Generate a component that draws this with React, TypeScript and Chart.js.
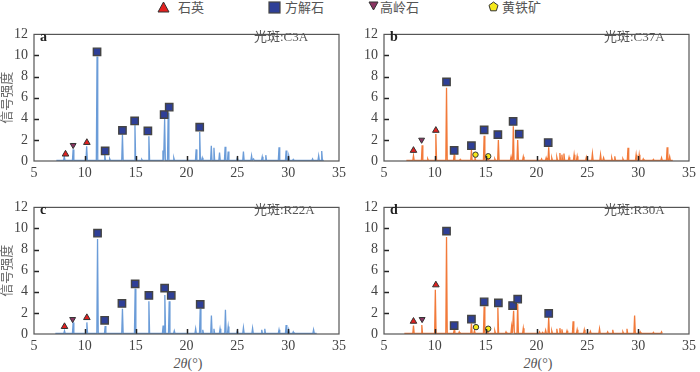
import React, { useEffect, useRef } from "react";
import { Chart, registerables } from "chart.js";
Chart.register(...registerables);

// ---------- DATA ----------
const xTicks = [5, 10, 15, 20, 25, 30, 35];
const yTicks = [0, 2, 4, 6, 8, 10, 12];

// Panel a: C3A
const peakXA = [7.98, 8.85, 10.18, 11.2, 11.96, 12.45, 13.7, 14.93, 15.6, 16.3, 17.68, 17.85, 18.2, 18.75, 20.95, 21.3, 21.55, 22.44, 22.7, 23.25, 23.8, 24.1, 25.0, 25.6, 26.4, 26.6, 27.45, 27.8, 29.1, 29.8, 30.05, 30.5, 32.4, 33.0, 33.3];
const peakYA = [0.4, 1.1, 1.4, 9.9, 0.6, 0.2, 2.5, 3.4, 0.15, 2.35, 1.0, 4.0, 4.6, 0.3, 1.1, 2.75, 0.3, 1.45, 1.25, 0.8, 1.35, 0.9, 0.3, 0.9, 0.5, 0.2, 0.4, 0.55, 1.3, 1.0, 0.5, 0.15, 0.2, 0.5, 0.95];
const rangeA = [7.2, 33.5];
const quartzA = [[8.1, 0.65], [10.2, 1.75]];
const kaolA = [[8.85, 1.5]];
const calciteA = [[11.2, 10.35], [12.0, 0.95], [13.7, 2.9], [14.9, 3.8], [16.2, 2.85], [17.8, 4.4], [18.3, 5.1], [21.3, 3.2]];
const pyriteA: number[][] = [];

// Panel b: C37A
const peakXB = [7.9, 8.75, 9.3, 10.1, 11.15, 11.9, 12.5, 13.6, 13.95, 14.85, 15.25, 15.9, 16.25, 17.5, 17.72, 18.15, 18.7, 20.5, 20.95, 21.2, 21.5, 22.0, 22.3, 22.5, 22.7, 23.2, 23.7, 24.0, 24.9, 25.5, 26.3, 26.6, 27.4, 27.7, 28.5, 29.0, 29.8, 30.1, 30.5, 31.5, 32.3, 32.85, 33.1];
const peakYB = [0.5, 1.5, 0.2, 2.55, 6.95, 0.55, 0.15, 1.05, 0.3, 2.4, 0.3, 0.2, 2.0, 0.4, 3.3, 2.0, 0.4, 0.2, 0.3, 1.3, 0.3, 0.35, 0.75, 0.6, 0.7, 0.35, 0.6, 0.45, 0.35, 0.7, 0.6, 0.3, 0.3, 0.45, 0.2, 1.25, 0.6, 0.6, 0.2, 0.15, 0.3, 1.3, 0.4];
const rangeB = [7.2, 33.4];
const quartzB = [[7.9, 1.0], [10.1, 2.9]];
const kaolB = [[8.7, 2.0]];
const calciteB = [[11.15, 7.5], [11.9, 1.0], [13.6, 1.45], [14.85, 2.95], [16.2, 2.5], [17.7, 3.75], [18.3, 2.55], [21.15, 1.75]];
const pyriteB = [[14.0, 0.6], [15.25, 0.45]];

// Panel c: R22A
const peakXC = [8.0, 8.85, 10.2, 11.25, 12.0, 13.7, 14.95, 16.3, 17.7, 17.87, 18.3, 18.8, 20.9, 21.35, 21.6, 22.45, 22.7, 23.3, 23.83, 24.1, 25.0, 25.6, 26.5, 27.4, 27.7, 29.1, 29.8, 30.05, 30.5, 32.5];
const peakYC = [0.3, 1.1, 1.1, 9.0, 0.75, 2.4, 4.3, 3.1, 0.8, 3.7, 3.1, 0.3, 0.5, 2.4, 0.4, 1.75, 0.5, 0.5, 2.3, 0.7, 0.3, 0.6, 0.55, 0.4, 0.5, 0.4, 0.85, 0.4, 0.2, 0.4];
const rangeC = [7.1, 32.8];
const quartzC = [[8.0, 0.7], [10.2, 1.55]];
const kaolC = [[8.8, 1.4]];
const calciteC = [[11.25, 9.55], [11.95, 1.3], [13.65, 2.9], [14.95, 4.75], [16.3, 3.65], [17.85, 4.35], [18.5, 3.65], [21.35, 2.8]];
const pyriteC: number[][] = [];

// Panel d: R30A
const peakXD = [7.9, 8.72, 10.05, 11.15, 11.9, 12.4, 13.6, 13.9, 14.85, 15.2, 15.9, 16.2, 17.0, 17.55, 17.75, 18.15, 18.7, 20.3, 20.6, 20.9, 21.2, 21.5, 22.0, 22.3, 22.5, 23.0, 23.6, 24.0, 24.7, 25.3, 26.2, 27.0, 27.5, 28.5, 28.9, 29.65, 30.2, 31.5, 32.3];
const peakYD = [0.8, 0.85, 4.2, 9.2, 0.35, 0.2, 1.0, 0.3, 2.6, 0.3, 0.3, 2.5, 0.2, 0.7, 2.2, 2.85, 0.55, 0.2, 0.15, 0.35, 1.55, 0.3, 0.5, 0.55, 0.45, 0.3, 1.2, 0.4, 0.4, 0.25, 0.5, 0.2, 0.4, 0.2, 0.5, 1.75, 0.2, 0.15, 0.2];
const rangeD = [7.0, 32.4];
const quartzD = [[7.9, 1.2], [10.1, 4.65]];
const kaolD = [[8.75, 1.4]];
const calciteD = [[11.15, 9.75], [11.9, 0.8], [13.6, 1.4], [14.85, 3.05], [16.25, 2.95], [17.65, 2.7], [18.15, 3.3], [21.2, 1.95]];
const pyriteD = [[14.05, 0.65], [15.25, 0.5]];

const legendLabels = ["石英", "方解石", "高岭石", "黄铁矿"];
const panelLetters = ["a", "b", "c", "d"];
const sampleLabels = ["光斑:C3A", "光斑:C37A", "光斑:R22A", "光斑:R30A"];

// ---------- STYLE ----------
const BLUE = "#6b9cd8";
const ORANGE = "#f27a3a";
const TEXT = "#555";
const SERIF = "'Liberation Serif', 'Noto Sans CJK SC', serif";
const BASE = 0.05;
const HALF = 0.07;

function buildSpectrum(range: number[], px: number[], py: number[]) {
  const pts: { x: number; y: number }[] = [{ x: range[0], y: BASE }];
  px.forEach((x, i) => {
    pts.push({ x: x - HALF, y: BASE }, { x, y: py[i] }, { x: x + HALF, y: BASE });
  });
  pts.push({ x: range[1], y: BASE });
  return pts;
}
const toPts = (arr: number[][]) => arr.map(([x, y]) => ({ x, y }));

const framePlugin = {
  id: "frame",
  afterDatasetsDraw(chart: any) {
    const { ctx, chartArea: a, scales } = chart;
    ctx.save();
    ctx.strokeStyle = "#222";
    ctx.lineWidth = 1.5;
    xTicks.slice(1, -1).forEach((v) => {
      const px = Math.round(scales.x.getPixelForValue(v)) + 0.5;
      ctx.beginPath();
      ctx.moveTo(px, a.bottom);
      ctx.lineTo(px, a.bottom - 5);
      ctx.stroke();
    });
    yTicks.slice(1, -1).forEach((v) => {
      const py = Math.round(scales.y.getPixelForValue(v)) + 0.5;
      ctx.beginPath();
      ctx.moveTo(a.left, py);
      ctx.lineTo(a.left + 5, py);
      ctx.stroke();
    });
    ctx.strokeStyle = "#555";
    ctx.lineWidth = 1.2;
    ctx.strokeRect(a.left, a.top, a.right - a.left, a.bottom - a.top);
    ctx.restore();
  },
};

type PanelProps = {
  left: number;
  top: number;
  color: string;
  range: number[];
  px: number[];
  py: number[];
  quartz: number[][];
  kaol: number[][];
  calcite: number[][];
  pyrite: number[][];
  yTitle: boolean;
};

function Panel(p: PanelProps) {
  const ref = useRef<HTMLCanvasElement>(null);
  useEffect(() => {
    if (!ref.current) return;
    const chart = new Chart(ref.current, {
      type: "line",
      data: {
        datasets: [
          {
            type: "line",
            data: buildSpectrum(p.range, p.px, p.py),
            borderColor: p.color,
            borderWidth: 1.3,
            pointRadius: 0,
            tension: 0,
            fill: false,
            order: 5,
          },
          {
            type: "scatter",
            data: toPts(p.quartz),
            pointStyle: "triangle",
            pointRadius: 3.8,
            backgroundColor: "#e3201f",
            borderColor: "#333",
            borderWidth: 1,
            clip: false,
            order: 1,
          },
          {
            type: "scatter",
            data: toPts(p.kaol),
            pointStyle: "triangle",
            rotation: 180,
            pointRadius: 3.4,
            backgroundColor: "#8b3462",
            borderColor: "#333",
            borderWidth: 1,
            clip: false,
            order: 1,
          },
          {
            type: "scatter",
            data: toPts(p.calcite),
            pointStyle: "rect",
            pointRadius: 5.2,
            backgroundColor: "#2e3f97",
            borderColor: "#444",
            borderWidth: 1.4,
            clip: false,
            order: 1,
          },
          {
            type: "scatter",
            data: toPts(p.pyrite),
            pointStyle: "circle",
            pointRadius: 2.7,
            backgroundColor: "#f5e81a",
            borderColor: "#333",
            borderWidth: 1,
            clip: false,
            order: 1,
          },
        ] as any,
      },
      options: {
        animation: false,
        responsive: false,
        maintainAspectRatio: false,
        layout: { padding: { top: 8, right: 7, left: 0, bottom: 0 } },
        plugins: { legend: { display: false }, tooltip: { enabled: false } },
        scales: {
          x: {
            type: "linear",
            min: 5,
            max: 35,
            grid: { display: false, drawTicks: false },
            border: { display: false },
            ticks: {
              stepSize: 5,
              padding: 4,
              color: "#444",
              font: { family: SERIF, size: 14 },
            },
            afterFit: (s: any) => {
              s.height = 19;
            },
          },
          y: {
            min: 0,
            max: 12,
            grid: { display: false, drawTicks: false },
            border: { display: false },
            ticks: {
              stepSize: 2,
              padding: 6,
              color: "#444",
              font: { family: SERIF, size: 14 },
            },
            title: {
              display: p.yTitle,
              text: "信号强度",
              color: "#666",
              font: { family: SERIF, size: 13 },
              padding: { top: 0, bottom: 0 },
            },
            afterFit: (s: any) => {
              s.width = 34;
            },
          },
        },
      },
      plugins: [framePlugin],
    });
    return () => chart.destroy();
  }, []);
  return (
    <canvas
      ref={ref}
      width={350}
      height={160}
      style={{ position: "absolute", left: p.left, top: p.top, width: 350, height: 160 }}
    />
  );
}

function LegendMark({ kind }: { kind: number }) {
  if (kind === 0)
    return (
      <svg width="13" height="12">
        <polygon points="6.5,1 12,11 1,11" fill="#e3201f" stroke="#333" strokeWidth="1" />
      </svg>
    );
  if (kind === 1)
    return (
      <svg width="13" height="13">
        <rect x="1" y="1" width="11" height="11" fill="#2e3f97" stroke="#444" strokeWidth="1.2" />
      </svg>
    );
  if (kind === 2)
    return (
      <svg width="11" height="10">
        <polygon points="1,1 10,1 5.5,9" fill="#8b3462" stroke="#333" strokeWidth="1" />
      </svg>
    );
  return (
    <svg width="11" height="11">
      <polygon points="5.5,1 10,4.3 8.3,9.8 2.7,9.8 1,4.3" fill="#f5e81a" stroke="#333" strokeWidth="1" />
    </svg>
  );
}

const legendPos = [
  { mark: 157, text: 178 },
  { mark: 268, text: 285 },
  { mark: 368, text: 380 },
  { mark: 488, text: 502 },
];

export default function App() {
  const panels: PanelProps[] = [
    { left: 0, top: 20, color: BLUE, range: rangeA, px: peakXA, py: peakYA, quartz: quartzA, kaol: kaolA, calcite: calciteA, pyrite: pyriteA, yTitle: true },
    { left: 350, top: 20, color: ORANGE, range: rangeB, px: peakXB, py: peakYB, quartz: quartzB, kaol: kaolB, calcite: calciteB, pyrite: pyriteB, yTitle: false },
    { left: 0, top: 193, color: BLUE, range: rangeC, px: peakXC, py: peakYC, quartz: quartzC, kaol: kaolC, calcite: calciteC, pyrite: pyriteC, yTitle: true },
    { left: 350, top: 193, color: ORANGE, range: rangeD, px: peakXD, py: peakYD, quartz: quartzD, kaol: kaolD, calcite: calciteD, pyrite: pyriteD, yTitle: false },
  ];
  const txt: React.CSSProperties = {
    position: "absolute",
    fontFamily: SERIF,
    color: TEXT,
    fontSize: 13,
    lineHeight: "16px",
    whiteSpace: "nowrap",
  };
  return (
    <div style={{ position: "fixed", left: 0, top: 0, width: 700, height: 372, background: "#fff", overflow: "hidden" }}>
      {panels.map((p, i) => (
        <Panel key={i} {...p} />
      ))}
      {legendLabels.map((l, i) => (
        <React.Fragment key={l}>
          <div style={{ position: "absolute", left: legendPos[i].mark, top: 1, lineHeight: 0 }}>
            <LegendMark kind={i} />
          </div>
          <div style={{ ...txt, left: legendPos[i].text, top: 0 }}>{l}</div>
        </React.Fragment>
      ))}
      {panels.map((p, i) => (
        <React.Fragment key={"t" + i}>
          <div style={{ ...txt, left: p.left + 40, top: p.top + 9, fontWeight: "bold", color: "#222", fontSize: 14 }}>
            {panelLetters[i]}
          </div>
          <div style={{ ...txt, left: p.left + 254, top: p.top + 9 }}>{sampleLabels[i]}</div>
        </React.Fragment>
      ))}
      {[188, 538].map((cx) => (
        <div key={cx} style={{ ...txt, left: cx - 40, width: 80, textAlign: "center", top: 356, fontSize: 14 }}>
          <i>2θ</i>(°)
        </div>
      ))}
    </div>
  );
}
